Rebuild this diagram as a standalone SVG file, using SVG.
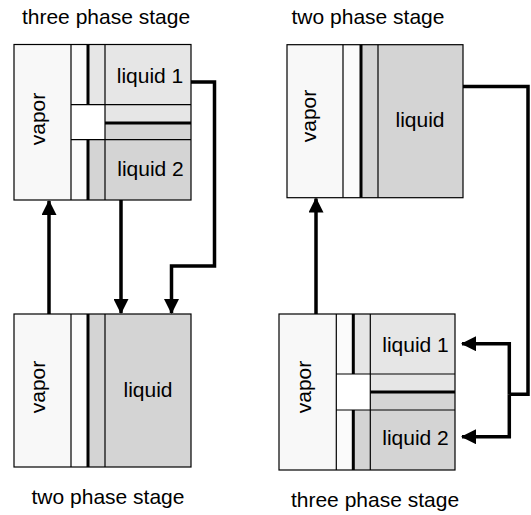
<svg xmlns="http://www.w3.org/2000/svg" width="531" height="515" viewBox="0 0 531 515">
<defs>
<style>
.t{font-family:"Liberation Sans",Arial,sans-serif;font-size:21px;fill:#000;text-anchor:middle}
.vap{fill:#f8f8f8}
.strip{fill:#fbfbfb}
.l1{fill:#e6e6e6}
.l2{fill:#d4d4d4}
.thin{stroke:#000;stroke-width:1.2;fill:none}
.thick{stroke:#000;stroke-width:3;fill:none}
.con{stroke:#000;stroke-width:3.5;fill:none;stroke-linejoin:miter}
</style>
<marker id="ah" markerWidth="15" markerHeight="15" refX="14" refY="7.5" orient="auto" markerUnits="userSpaceOnUse">
<path d="M0,0 L15,7.5 L0,15 Z" fill="#000"/>
</marker>
</defs>
<rect width="531" height="515" fill="#fff"/>

<g id="stage-tl">
<rect class="vap" x="14" y="44.5" width="57" height="155.5"/>
<rect class="strip" x="71" y="44.5" width="17" height="155.5"/>
<rect class="l1" x="88" y="44.5" width="103" height="78.5"/>
<rect class="l2" x="88" y="123" width="103" height="77"/>
<rect fill="#fff" x="71" y="104.7" width="34" height="35"/>
<path class="thin" d="M71,44.5V200M105,44.5V200M71,104.7H191M71,139.7H191"/>
<path class="thick" d="M88,44.5V104.7M88,139.7V200M105,123H191"/>
<rect class="thin" x="14" y="44.5" width="177" height="155.5"/>
<text class="t" x="150" y="83">liquid 1</text>
<text class="t" x="150.5" y="176">liquid 2</text>
<text class="t" transform="translate(45,119) rotate(-90)">vapor</text>
<text class="t" x="106" y="24">three phase stage</text>
</g>

<g id="stage-tr">
<rect class="vap" x="287" y="44.7" width="56" height="153"/>
<rect class="strip" x="343" y="44.7" width="18" height="153"/>
<rect class="l2" x="361" y="44.7" width="102" height="153"/>
<path class="thin" d="M343,44.7V197.7M378,44.7V197.7"/>
<path class="thick" d="M361,44.7V197.7"/>
<rect class="thin" x="287" y="44.7" width="176" height="153"/>
<text class="t" x="420" y="127">liquid</text>
<text class="t" transform="translate(316,116) rotate(-90)">vapor</text>
<text class="t" x="368" y="24">two phase stage</text>
</g>

<g id="stage-bl">
<rect class="vap" x="14" y="314" width="57" height="153"/>
<rect class="strip" x="71" y="314" width="17" height="153"/>
<rect class="l2" x="88" y="314" width="103" height="153"/>
<path class="thin" d="M71,314V467M105,314V467"/>
<path class="thick" d="M88,314V467"/>
<rect class="thin" x="14" y="314" width="177" height="153"/>
<text class="t" x="148" y="397">liquid</text>
<text class="t" transform="translate(45,387) rotate(-90)">vapor</text>
<text class="t" x="108" y="504">two phase stage</text>
</g>

<g id="stage-br">
<rect class="vap" x="279" y="314" width="57.3" height="156"/>
<rect class="strip" x="336.3" y="314" width="17" height="156"/>
<rect class="l1" x="353.3" y="314" width="101.7" height="78"/>
<rect class="l2" x="353.3" y="392" width="101.7" height="78"/>
<rect fill="#fff" x="336.3" y="374" width="34" height="36"/>
<path class="thin" d="M336.3,314V470M370.3,314V470M336.3,374H455M336.3,410H455"/>
<path class="thick" d="M353.3,314V374M353.3,410V470M370.3,392H455"/>
<rect class="thin" x="279" y="314" width="176" height="156"/>
<text class="t" x="415.5" y="352">liquid 1</text>
<text class="t" x="415.5" y="445">liquid 2</text>
<text class="t" transform="translate(311,387) rotate(-90)">vapor</text>
<text class="t" x="375" y="507">three phase stage</text>
</g>

<g id="connectors">
<path class="con" d="M49,314V201" marker-end="url(#ah)"/>
<path class="con" d="M121,200V313" marker-end="url(#ah)"/>
<path class="con" d="M191,82H214.5V266H171.5V313" marker-end="url(#ah)"/>
<path class="con" d="M316,314V198.5" marker-end="url(#ah)"/>
<path class="con" d="M463,86.5H528V394.3H509.3"/>
<path class="con" d="M509.3,394.3V343.7H462" marker-end="url(#ah)"/>
<path class="con" d="M509.3,394.3V436.7H462" marker-end="url(#ah)"/>
</g>
</svg>
